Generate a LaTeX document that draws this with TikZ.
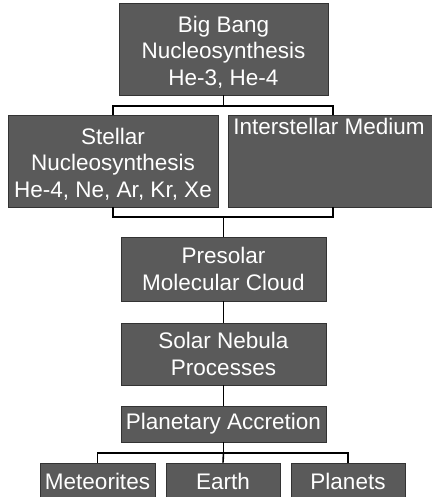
\documentclass[tikz,border=0pt]{standalone}
\usepackage{fontspec}
\setmainfont{Liberation Sans}
\definecolor{boxgray}{HTML}{5A5A5A}
\tikzset{
  txt/.style={text=white, align=center, inner sep=0pt, font=\fontsize{22.5}{26.5}\selectfont},
  box/.style={rectangle, fill=boxgray, draw=black!80, line width=0.6pt, txt},
  link/.style={draw=black, line width=1.6pt}
}
\begin{document}
\begin{tikzpicture}[x=1pt,y=-1pt]
\useasboundingbox (0,0) rectangle (431,497);
\node[box, minimum width=209pt, minimum height=92pt] (bb) at (223.5,49) {};
\node[txt] (bbt) at (223.5,52) {Big Bang\\Nucleosynthesis\\He-3, He-4};
\node[box, minimum width=210pt, minimum height=92pt] (st) at (113,161) {};
\node[txt] (stt) at (113,164) {Stellar\\Nucleosynthesis\\He-4, Ne, Ar, Kr, Xe};
\node[box, minimum width=205pt, minimum height=92pt] (is) at (330.5,161) {};
\node[txt] (ist) at (329,126) {Interstellar Medium};
\node[box, minimum width=205pt, minimum height=64pt] (pm) at (223.5,269) {Presolar\\Molecular Cloud};
\node[box, minimum width=205pt, minimum height=62pt] (sn) at (223.5,354) {Solar Nebula\\Processes};
\node[box, minimum width=205pt, minimum height=36pt] (pa) at (223.5,424) {Planetary Accretion};
\node[box, minimum width=115pt, minimum height=36pt] (me) at (97.5,481) {Meteorites};
\node[box, minimum width=114pt, minimum height=36pt] (ea) at (223,481) {Earth};
\node[box, minimum width=114pt, minimum height=36pt] (pl) at (348,481) {Planets};
% junctions
\coordinate (j1) at (223.5,106);
\coordinate (j2) at (223.5,217);
\coordinate (j3) at (223.5,453);
\coordinate (isin) at (333,115);
\coordinate (isout) at (333,207);
\draw[link] (bb.south) -- (j1);
\draw[link] (st.north) |- (j1) -| (isin);
\draw[link] (st.south) |- (j2) -| (isout);
\draw[link] (j2) -- (pm.north);
\draw[link] (pm.south) -- (sn.north);
\draw[link] (sn.south) -- (pa.north);
\draw[link] (pa.south) -- (j3);
\draw[link] (me.north) |- (j3) -| (pl.north);
\draw[link] (j3) -- (ea.north);
\end{tikzpicture}
\end{document}
